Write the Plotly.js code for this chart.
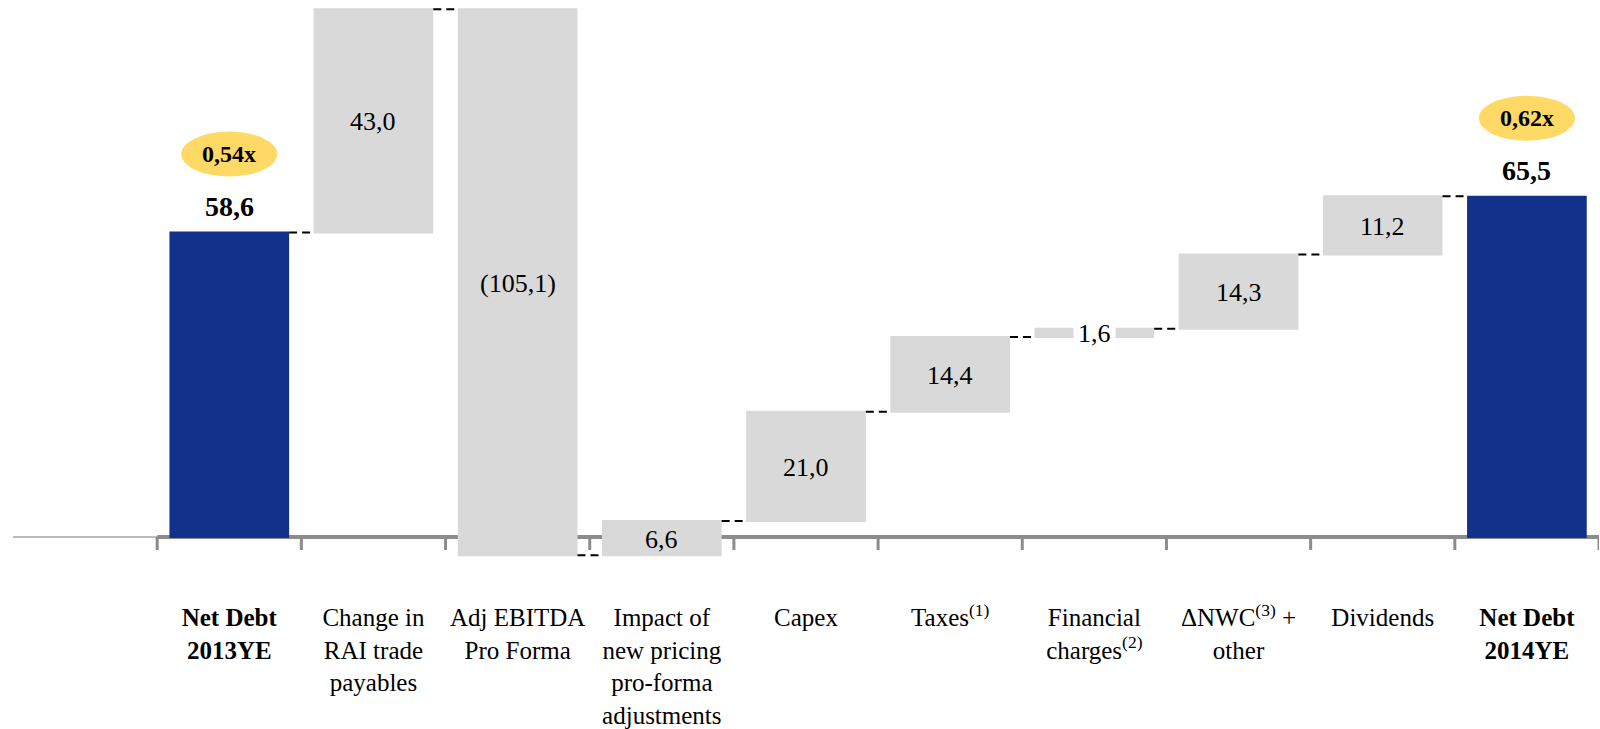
<!DOCTYPE html>
<html>
<head>
<meta charset="utf-8">
<script src="https://cdn.plot.ly/plotly-3.0.1.min.js"></script>
<style>html,body{margin:0;padding:0;background:#fff;}#chart{width:1600px;height:729px;}</style>
</head>
<body>
<div id="chart"></div>
<script>
// ---- data ----
const categories = [
  'Net Debt<br>2013YE',
  'Change in<br>RAI trade<br>payables',
  'Adj EBITDA<br>Pro Forma',
  'Impact of<br>new pricing<br>pro-forma<br>adjustments',
  'Capex',
  'Taxes<sup>(1)</sup>',
  'Financial<br>charges<sup>(2)</sup>',
  'ΔNWC<sup>(3)</sup> +<br>other',
  'Dividends',
  'Net Debt<br>2014YE'
];
const measures = ['absolute','relative','relative','relative','relative','relative','relative','relative','relative','absolute'];
const values = [58.6, 43.0, -105.1, 6.6, 21.0, 14.4, 1.6, 14.3, 11.2, 65.5];
const leverage = ['0,54x', '', '', '', '', '', '', '', '', '0,62x'];

// ---- helpers ----
const fmt = v => {
  const s = Math.abs(v).toFixed(1).replace('.', ',');
  return v < 0 ? '(' + s + ')' : s;
};
const BLUE = '#11318B', GREY = '#D9D9D9', AXIS = '#8C8C8C';
const SERIF = 'Liberation Serif, Times New Roman, serif';

const annotations = [];
const shapes = [];
let running = 0;
values.forEach((v, i) => {
  if (measures[i] === 'absolute') {
    running = v;
    annotations.push({x: categories[i], y: v, xref: 'x', yref: 'y', text: '<b>' + fmt(v) + '</b>',
      showarrow: false, yanchor: 'middle', yshift: 26, font: {family: SERIF, size: 28, color: '#000'}});
    if (leverage[i]) {
      shapes.push({type: 'circle', xref: 'x', yref: 'y', xsizemode: 'pixel', ysizemode: 'pixel',
        xanchor: i, yanchor: v, x0: -48, x1: 48, y0: 56, y1: 101,
        fillcolor: '#FFD966', line: {width: 0}, layer: 'above'});
      annotations.push({x: categories[i], y: v, xref: 'x', yref: 'y', text: '<b>' + leverage[i] + '</b>',
        showarrow: false, yanchor: 'middle', yshift: 78.5, font: {family: SERIF, size: 24, color: '#000'}});
    }
  } else {
    const mid = running + v / 2;
    running += v;
    const small = Math.abs(v) < 3;
    annotations.push({x: categories[i], y: mid, xref: 'x', yref: 'y', text: fmt(v), showarrow: false,
      yanchor: 'middle', yshift: -1, font: {family: SERIF, size: 26, color: '#000'},
      bgcolor: small ? '#FFFFFF' : 'rgba(0,0,0,0)', borderpad: small ? 4 : 0});
  }
});

// baseline: thin lead-in line, thick axis line, boundary ticks
shapes.push({type: 'line', xref: 'x', yref: 'y', x0: -1.5, x1: -0.5, y0: 0, y1: 0,
  line: {color: '#A6A6A6', width: 1.5}, layer: 'below'});
shapes.push({type: 'line', xref: 'x', yref: 'y', x0: -0.5, x1: categories.length - 0.5, y0: 0, y1: 0,
  line: {color: AXIS, width: 4}, layer: 'below'});
for (let k = 0; k <= categories.length; k++) {
  shapes.push({type: 'line', xref: 'x', yref: 'y', ysizemode: 'pixel', yanchor: 0,
    x0: k - 0.5, x1: k - 0.5, y0: 0, y1: -13, line: {color: AXIS, width: 3}, layer: 'below'});
}

const trace = {
  type: 'waterfall',
  x: categories,
  y: values,
  measure: measures,
  orientation: 'v',
  totals: {marker: {color: BLUE, line: {width: 0}}},
  increasing: {marker: {color: GREY, line: {width: 0}}},
  decreasing: {marker: {color: GREY, line: {width: 0}}},
  connector: {mode: 'between', line: {color: '#000', width: 2, dash: '8px,5px'}},
  textinfo: 'none',
  hoverinfo: 'skip',
  showlegend: false
};

const layout = {
  width: 1600, height: 729,
  margin: {l: 13, r: 1, t: 0, b: 129},
  paper_bgcolor: '#fff', plot_bgcolor: '#fff',
  waterfallgap: 0.17,
  showlegend: false,
  xaxis: {
    type: 'category', range: [-1.5, categories.length - 0.5],
    tickvals: categories,
    ticktext: categories.map((c, i) => measures[i] === 'absolute' ? '<b>' + c + '</b>' : c),
    ticks: '', showline: false, showgrid: false, zeroline: false,
    tickfont: {family: SERIF, size: 25, color: '#000'},
    tickangle: 0, automargin: false
  },
  yaxis: {
    range: [-12.13, 103.37], showgrid: false, zeroline: false, showline: false,
    showticklabels: false, ticks: '', fixedrange: true
  },
  annotations: annotations,
  shapes: shapes
};

Plotly.newPlot('chart', [trace], layout, {displayModeBar: false, staticPlot: true});
</script>
</body>
</html>
